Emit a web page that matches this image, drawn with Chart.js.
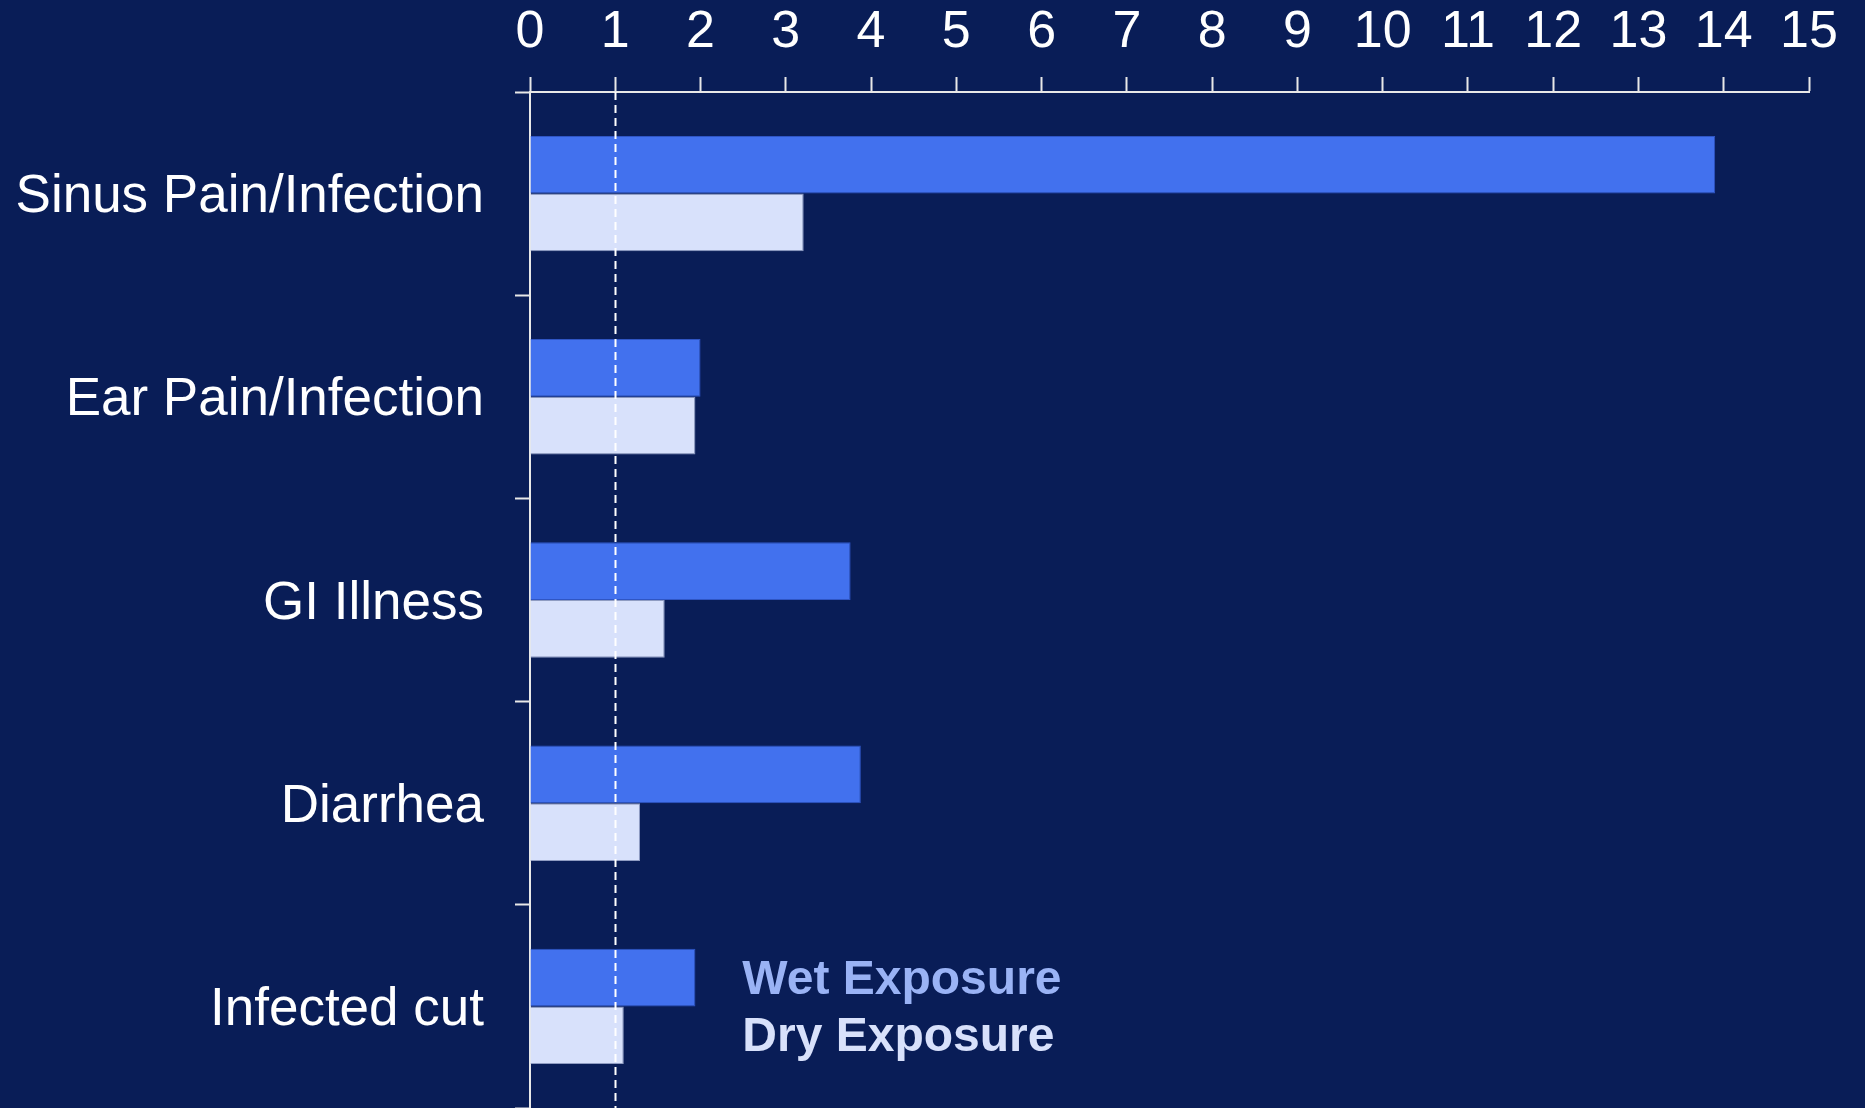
<!DOCTYPE html>
<html>
<head>
<meta charset="utf-8">
<script src="https://cdn.jsdelivr.net/npm/chart.js@4"></script>
<style>
    html, body { margin: 0; padding: 0; background: #091d57; }
    canvas { display: block; }
</style>
</head>
<body>
<canvas id="exposureChart" width="1865" height="1108"></canvas>
<script>
const categories = ['Sinus Pain/Infection', 'Ear Pain/Infection', 'GI Illness', 'Diarrhea', 'Infected cut'];
const wetValues = [13.9, 2.0, 3.76, 3.88, 1.94];
const dryValues = [3.21, 1.94, 1.58, 1.29, 1.1];
const seriesNames = ['Wet Exposure', 'Dry Exposure'];
const xMin = 0;
const xMax = 15;
const referenceValue = 1;

document.addEventListener('DOMContentLoaded', function () {
    const ctx = document.getElementById('exposureChart').getContext('2d');

    // dashed line at 1 and the text legend, both placed through the scales
    const extras = {
        id: 'extras',
        afterDatasetsDraw(chart) {
            const c = chart.ctx;
            const x = chart.scales.x;
            const area = chart.chartArea;
            const px = Math.round(x.getPixelForValue(referenceValue)) + 0.5;
            c.save();
            c.strokeStyle = '#ffffff';
            c.lineWidth = 2;
            c.setLineDash([8, 5]);
            c.beginPath();
            c.moveTo(px, area.top);
            c.lineTo(px, area.bottom);
            c.stroke();
            c.restore();

            c.save();
            c.font = 'bold 48px "Liberation Sans", Arial, sans-serif';
            c.textBaseline = 'middle';
            c.textAlign = 'left';
            const lx = x.getPixelForValue(2.49);
            const last = categories.length - 1;
            chart.data.datasets.forEach(function (ds, i) {
                const bar = chart.getDatasetMeta(i).data[last];
                c.fillStyle = ds.legendColor;
                c.fillText(ds.label, lx, bar.y + 3);
            });
            c.restore();
        }
    };

    const data = {
        labels: categories,
        datasets: [
            {
                label: seriesNames[0],
                data: wetValues,
                backgroundColor: '#4271ee',
                borderColor: '#2f55c4',
                borderWidth: 1,
                legendColor: '#9ab3f5',
                categoryPercentage: 0.568,
                barPercentage: 1.0
            },
            {
                label: seriesNames[1],
                data: dryValues,
                backgroundColor: '#d8e1fb',
                borderColor: '#8f9cc2',
                borderWidth: 1,
                legendColor: '#d8e1fb',
                categoryPercentage: 0.568,
                barPercentage: 1.0
            }
        ]
    };

    const options = {
        responsive: false,
        animation: false,
        indexAxis: 'y',
        layout: { padding: { top: 0, right: 56, bottom: 0, left: 0 } },
        plugins: {
            legend: { display: false },
            tooltip: { enabled: false }
        },
        scales: {
            x: {
                position: 'top',
                min: xMin,
                max: xMax,
                afterFit: function (s) {
                    s.height = 92;
                    s.paddingLeft = 0;
                    s.paddingRight = 0;
                },
                ticks: {
                    stepSize: 1,
                    color: '#ffffff',
                    padding: 13,
                    font: { family: '"Liberation Sans", Arial, sans-serif', size: 52 }
                },
                grid: {
                    drawOnChartArea: false,
                    drawTicks: true,
                    tickLength: 15,
                    tickWidth: 2,
                    color: '#e8e8e8'
                },
                border: { display: true, color: '#e8e8e8', width: 2 }
            },
            y: {
                afterFit: function (s) {
                    s.width = 530;
                    s.paddingTop = 0;
                    s.paddingBottom = 0;
                },
                ticks: {
                    color: '#ffffff',
                    padding: 31,
                    labelOffset: 4,
                    font: { family: '"Liberation Sans", Arial, sans-serif', size: 53 }
                },
                grid: {
                    drawOnChartArea: false,
                    drawTicks: true,
                    tickLength: 15,
                    tickWidth: 2,
                    color: '#e8e8e8'
                },
                border: { display: true, color: '#e8e8e8', width: 2 }
            }
        }
    };

    new Chart(ctx, {
        type: 'bar',
        data: data,
        options: options,
        plugins: [extras]
    });
});
</script>
</body>
</html>
